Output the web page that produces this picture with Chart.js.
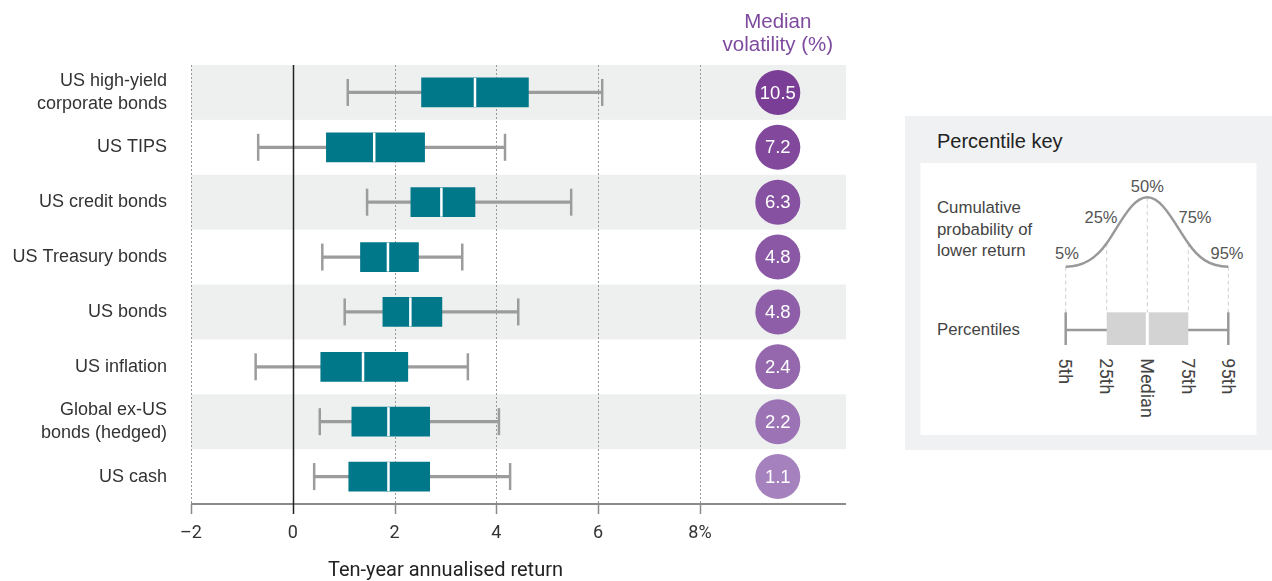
<!DOCTYPE html>
<html>
<head>
<meta charset="utf-8">
<script src="https://cdn.jsdelivr.net/npm/chart.js@4.4.0/dist/chart.umd.min.js"></script>
<style>
  html, body { margin: 0; padding: 0; background: #fff; }
  #wrap { position: relative; width: 1272px; height: 581px; overflow: hidden; }
  #chart { position: absolute; left: 0; top: 0; }
  #key { position: absolute; left: 905px; top: 116px; }
</style>
</head>
<body>
<div id="wrap">
  <canvas id="chart" width="1272" height="581"></canvas>

  <svg id="key" width="367" height="334" viewBox="0 0 367 334" xmlns="http://www.w3.org/2000/svg"
       font-family="Liberation Sans, Arial, sans-serif">
    <rect x="0" y="0" width="367" height="334" fill="#F0F1F2"/>
    <rect x="15.5" y="47" width="336" height="272" fill="#fff"/>
    <text x="32" y="32" font-size="20" fill="#222">Percentile key</text>
    <g font-size="16.8" fill="#444">
      <text x="32" y="97">Cumulative</text>
      <text x="32" y="118.5">probability of</text>
      <text x="32" y="140">lower return</text>
      <text x="32" y="219">Percentiles</text>
    </g>
    <!-- guides from the curve down to the box -->
    <g stroke="#CFCFCF" stroke-width="1" stroke-dasharray="4 3">
      <line x1="160.7" y1="150.7" x2="160.7" y2="196.3"/>
      <line x1="201.7" y1="127.3" x2="201.7" y2="196.3"/>
      <line x1="242.3" y1="81.3" x2="242.3" y2="196.3"/>
      <line x1="283.3" y1="127.3" x2="283.3" y2="196.3"/>
      <line x1="323.3" y1="150.7" x2="323.3" y2="196.3"/>
    </g>
    <path d="M160.7,150.7 C180,150.7 192,141 201.7,127.3 C215,108 227,81.3 242.3,81.3 C257.6,81.3 269.6,108 283.3,127.3 C292.6,141 304,150.7 323.3,150.7"
          fill="none" stroke="#999" stroke-width="2.5"/>
    <g font-size="16.5" fill="#555" text-anchor="middle">
      <text x="242.3" y="76">50%</text>
      <text x="196" y="107">25%</text>
      <text x="290" y="107">75%</text>
      <text x="162" y="143">5%</text>
      <text x="322" y="143">95%</text>
    </g>
    <!-- sample box -->
    <g stroke="#999" stroke-width="2.5">
      <line x1="160.7" y1="214" x2="323.3" y2="214"/>
      <line x1="160.7" y1="196.3" x2="160.7" y2="229"/>
      <line x1="323.3" y1="196.3" x2="323.3" y2="229"/>
    </g>
    <rect x="201.7" y="196.3" width="81.6" height="32.7" fill="#D3D3D3"/>
    <line x1="242.3" y1="196.3" x2="242.3" y2="229" stroke="#fff" stroke-width="3"/>
    <g font-size="18" fill="#444" font-family="Roboto, sans-serif" dominant-baseline="central">
      <text transform="translate(160.7,242.3) rotate(90)">5th</text>
      <text transform="translate(201.7,242.3) rotate(90)">25th</text>
      <text transform="translate(242.3,242.3) rotate(90)">Median</text>
      <text transform="translate(283.3,242.3) rotate(90)">75th</text>
      <text transform="translate(323.3,242.3) rotate(90)">95th</text>
    </g>
  </svg>
</div>

<script>
// ten-year annualised return percentiles, per asset class (%)
const categories = [
  ['US high-yield', 'corporate bonds'],
  'US TIPS',
  'US credit bonds',
  'US Treasury bonds',
  'US bonds',
  'US inflation',
  ['Global ex-US', 'bonds (hedged)'],
  'US cash'
];
const p5  = [1.08, -0.68, 1.46, 0.58, 1.02, -0.73, 0.53, 0.42];
const p25 = [2.53,  0.66, 2.32, 1.33, 1.77,  0.55, 1.16, 1.10];
const p50 = [3.58,  1.60, 2.92, 1.87, 2.31,  1.38, 1.88, 1.88];
const p75 = [4.63,  2.59, 3.58, 2.47, 2.93,  2.26, 2.69, 2.69];
const p95 = [6.08,  4.17, 5.47, 3.33, 4.43,  3.44, 4.05, 4.27];
const volatility = [10.5, 7.2, 6.3, 4.8, 4.8, 2.4, 2.2, 1.1];

const tickValues = [-2, 0, 2, 4, 6, 8];
const tickLabels = ['\u20132', '0', '2', '4', '6', '8%'];

// where the volatility column sits along the return axis
const VOL_X = 9.53;
const X_MIN = -2;
const X_MAX = 10.87;

const SANS = '"Liberation Sans", Arial, sans-serif';
const NARROW = 'Roboto, "DejaVu Sans Condensed", sans-serif';
const BOX_COLOR = '#00788A';
const WHISKER_COLOR = '#9C9C9C';
const circleColors = ['#7B3E96', '#81489C', '#8751A1', '#8B58A5', '#8F5EA8', '#9568AE', '#9C73B5', '#A581BD'];

const boxExtras = {
  id: 'boxExtras',
  beforeDatasetsDraw(chart) {
    const { ctx, chartArea: a, scales: { x, y } } = chart;
    const rowH = a.height / categories.length;
    ctx.save();

    // shaded rows
    ctx.fillStyle = '#EEF0EF';
    categories.forEach((c, i) => {
      if (i % 2) return;
      const cy = y.getPixelForValue(i);
      ctx.fillRect(a.left, cy - rowH / 2, a.right - a.left, rowH);
    });

    // dotted grid
    ctx.strokeStyle = '#999';
    ctx.lineWidth = 1;
    ctx.setLineDash([2, 2]);
    tickValues.forEach(v => {
      if (v === 0) return;
      const px = Math.round(x.getPixelForValue(v)) + 0.5;
      ctx.beginPath();
      ctx.moveTo(px, a.top);
      ctx.lineTo(px, a.bottom);
      ctx.stroke();
    });
    ctx.setLineDash([]);

    // axis line and ticks
    ctx.strokeStyle = '#8A8A8A';
    ctx.lineWidth = 2;
    ctx.beginPath();
    ctx.moveTo(a.left, a.bottom);
    ctx.lineTo(a.right, a.bottom);
    ctx.stroke();
    ctx.lineWidth = 1.5;
    tickValues.forEach(v => {
      if (v === 0) return;
      const px = Math.round(x.getPixelForValue(v)) + 0.5;
      ctx.beginPath();
      ctx.moveTo(px, a.bottom);
      ctx.lineTo(px, a.bottom + 10);
      ctx.stroke();
    });

    // whisker caps
    ctx.strokeStyle = WHISKER_COLOR;
    ctx.lineWidth = 2.5;
    categories.forEach((c, i) => {
      const cy = y.getPixelForValue(i);
      [p5[i], p95[i]].forEach(v => {
        const px = x.getPixelForValue(v);
        ctx.beginPath();
        ctx.moveTo(px, cy - 13.5);
        ctx.lineTo(px, cy + 13.5);
        ctx.stroke();
      });
    });
    ctx.restore();
  },
  afterDatasetsDraw(chart) {
    const { ctx, chartArea: a, scales: { x, y } } = chart;
    ctx.save();

    // zero line
    const x0 = Math.round(x.getPixelForValue(0)) + 0.5;
    ctx.strokeStyle = '#222';
    ctx.lineWidth = 1.5;
    ctx.beginPath();
    ctx.moveTo(x0, a.top);
    ctx.lineTo(x0, a.bottom + 10);
    ctx.stroke();

    // medians
    ctx.strokeStyle = '#fff';
    ctx.lineWidth = 2.5;
    categories.forEach((c, i) => {
      const cy = y.getPixelForValue(i);
      const px = x.getPixelForValue(p50[i]);
      ctx.beginPath();
      ctx.moveTo(px, cy - 14.5);
      ctx.lineTo(px, cy + 14.5);
      ctx.stroke();
    });

    // volatility values inside the circles
    const pts = chart.getDatasetMeta(0).data;
    ctx.fillStyle = '#fff';
    ctx.font = '18.5px ' + SANS;
    ctx.textAlign = 'center';
    ctx.textBaseline = 'middle';
    pts.forEach((p, i) => ctx.fillText(volatility[i].toFixed(1), p.x, p.y + 1));

    // column header
    const hx = x.getPixelForValue(VOL_X);
    ctx.fillStyle = '#7E4A9E';
    ctx.font = '20.5px ' + SANS;
    ctx.fillText('Median', hx, 22);
    ctx.fillText('volatility (%)', hx, 45);

    // axis title
    ctx.fillStyle = '#222';
    ctx.font = '20px ' + NARROW;
    const tx = (x.getPixelForValue(tickValues[0]) + x.getPixelForValue(tickValues[tickValues.length - 1])) / 2;
    ctx.fillText('Ten-year annualised return', tx, 571);
    ctx.restore();
  }
};

const ctx = document.getElementById('chart').getContext('2d');
new Chart(ctx, {
  type: 'bar',
  data: {
    labels: categories,
    datasets: [
      {
        type: 'scatter',
        data: volatility.map((v, i) => ({ x: VOL_X, y: i })),
        pointRadius: 22.5,
        pointHoverRadius: 22.5,
        backgroundColor: circleColors,
        borderWidth: 0,
        clip: false,
        order: 0
      },
      {
        data: p25.map((v, i) => [v, p75[i]]),
        backgroundColor: BOX_COLOR,
        barThickness: 29,
        grouped: false,
        order: 1
      },
      {
        data: p5.map((v, i) => [v, p95[i]]),
        backgroundColor: WHISKER_COLOR,
        barThickness: 2.5,
        grouped: false,
        order: 2
      }
    ]
  },
  options: {
    indexAxis: 'y',
    responsive: false,
    animation: false,
    events: [],
    layout: { padding: { top: 65, right: 426, left: 0, bottom: 0 } },
    plugins: { legend: { display: false }, tooltip: { enabled: false } },
    scales: {
      x: {
        type: 'linear',
        min: X_MIN,
        max: X_MAX,
        grid: { display: false, drawTicks: false },
        border: { display: false },
        afterBuildTicks: s => { s.ticks = tickValues.map(v => ({ value: v })); },
        afterFit: s => { s.height = 77; },
        ticks: {
          callback: (v, i) => tickLabels[i],
          font: { family: NARROW, size: 18 },
          color: '#333',
          padding: 19,
          maxRotation: 0
        }
      },
      y: {
        type: 'category',
        offset: true,
        grid: { display: false, drawTicks: false },
        border: { display: false },
        afterFit: s => { s.width = 191; },
        ticks: {
          font: { family: SANS, size: 18, lineHeight: 1.25 },
          color: '#333',
          padding: 24,
          autoSkip: false
        }
      }
    }
  },
  plugins: [boxExtras]
});
</script>
</body>
</html>
